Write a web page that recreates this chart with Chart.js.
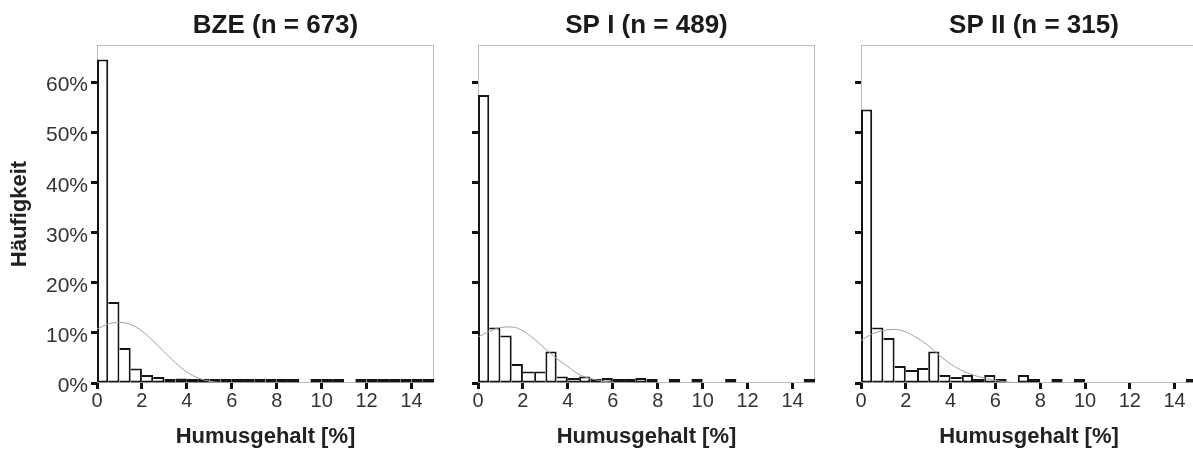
<!DOCTYPE html>
<html>
<head>
<meta charset="utf-8">
<script src="https://cdn.jsdelivr.net/npm/chart.js@4"></script>
<style>
  html, body { margin: 0; padding: 0; background: #fff; overflow: hidden; }
  body { width: 1193px; height: 450px; position: relative; }
  canvas { position: absolute; top: 0; }
</style>
</head>
<body>
<canvas id="bze" width="440" height="450" style="left:0px"></canvas>
<canvas id="sp1" width="380" height="450" style="left:440px"></canvas>
<canvas id="sp2" width="380" height="450" style="left:820px"></canvas>
<script>
// histogram bins, 0.5 % humus wide (centers)
const binCenters = [0.25, 0.75, 1.25, 1.75, 2.25, 2.75, 3.25, 3.75, 4.25, 4.75,
  5.25, 5.75, 6.25, 6.75, 7.25, 7.75, 8.25, 8.75, 9.25, 9.75,
  10.25, 10.75, 11.25, 11.75, 12.25, 12.75, 13.25, 13.75, 14.25, 14.75];

// share of samples per bin in %, null = empty bin
const bzeBins = [64.6, 16.2, 7.0, 2.9, 1.6, 1.2, 0.4, 0.9, 0.3, 0.5,
  0.2, 0.2, 0.2, 0.15, 0.15, 0.15, 0.15, 0.15, null, 0.15,
  0.15, 0.15, null, 0.15, 0.15, 0.15, 0.15, 0.15, 0.15, 0.15];
const sp1Bins = [57.5, 11.1, 9.5, 3.8, 2.3, 2.3, 6.3, 1.3, 1.0, 1.3,
  0.5, 1.0, 0.2, 0.2, 1.0, 0.2, null, 0.2, null, 0.2,
  null, null, 0.2, null, null, null, null, null, null, 0.2];
const sp2Bins = [54.6, 11.1, 9.0, 3.4, 2.6, 3.0, 6.3, 1.6, 1.2, 1.6,
  0.8, 1.6, 0.3, null, 1.6, 0.3, null, 0.3, null, 0.3,
  null, null, null, null, null, null, null, null, null, 0.3];

// fitted normal curve
const curveX = [0, 0.5, 1, 1.5, 2, 2.5, 3, 3.5, 4, 4.5, 5, 5.5, 6, 6.5, 7];
const bzeCurve = [10.8, 11.8, 12.1, 11.7, 10.4, 8.4, 6.2, 4.0, 2.2, 1.0, 0.35, 0.1, 0, 0, 0];
const sp1Curve = [9.2, 10.3, 11.1, 11.2, 10.4, 8.8, 6.8, 4.9, 3.3, 1.7, 0.9, 0.4, 0.15, 0, 0];
const sp2Curve = [8.5, 9.8, 10.5, 10.7, 10.2, 9.0, 7.5, 5.5, 3.8, 2.5, 1.6, 1.0, 0.5, 0.2, 0];

Chart.defaults.font.family = "'Liberation Sans', Arial, sans-serif";

// shared edge between neighbours is drawn only by the taller bar
function edges(vals, i) {
  const v = vals[i] || 0;
  const prev = vals[i - 1] || 0;
  const next = vals[i + 1] || 0;
  return { top: 2, bottom: 2, left: prev > v ? 0 : 2, right: (next > 0 && next >= v) ? 0 : 2 };
}

const frame = {
  id: 'frame',
  beforeDatasetsDraw(chart) {
    const { ctx, chartArea: a } = chart;
    ctx.save();
    ctx.strokeStyle = '#bdbdbd';
    ctx.lineWidth = 1;
    ctx.strokeRect(a.left + 0.5, a.top + 0.5, a.right - a.left - 1, a.bottom - a.top - 1);
    ctx.restore();
  }
};

const panelTitle = {
  id: 'panelTitle',
  afterDraw(chart, args, opts) {
    const { ctx, chartArea: a } = chart;
    ctx.save();
    ctx.font = "bold 26px 'Liberation Sans', Arial, sans-serif";
    ctx.fillStyle = '#1a1a1a';
    ctx.textAlign = 'center';
    ctx.textBaseline = 'alphabetic';
    ctx.fillText(opts.text, (a.left + a.right) / 2 + opts.dx, 33);
    ctx.restore();
  }
};

function makeChart(id, title, dx, bins, curve, axisWidth, padRight, showY) {
  new Chart(document.getElementById(id), {
    type: 'bar',
    data: {
      datasets: [
        {
          type: 'line',
          data: curveX.map((x, i) => ({ x, y: curve[i] })),
          borderColor: '#a0a0a0',
          borderWidth: 1,
          pointRadius: 0,
          cubicInterpolationMode: 'monotone',
          order: 0
        },
        {
          type: 'bar',
          data: binCenters.map((x, i) => ({ x, y: bins[i] })),
          backgroundColor: '#ffffff',
          borderColor: '#151515',
          borderWidth: ctx => edges(bins, ctx.dataIndex),
          borderSkipped: false,
          inflateAmount: 0,
          minBarLength: 4,
          categoryPercentage: 1,
          barPercentage: 1,
          order: 1
        }
      ]
    },
    options: {
      responsive: false,
      animation: false,
      events: [],
      layout: { padding: { top: 45, right: padRight, left: 0, bottom: 0 } },
      plugins: {
        legend: { display: false },
        tooltip: { enabled: false },
        panelTitle: { text: title, dx: dx }
      },
      scales: {
        x: {
          type: 'linear',
          min: 0,
          max: 15,
          offset: false,
          border: { display: false },
          grid: { drawOnChartArea: false, tickLength: 6, tickWidth: 3, tickColor: '#111', offset: false },
          ticks: { stepSize: 2, includeBounds: false, padding: 0, color: '#333', font: { size: 20 }, maxRotation: 0, autoSkip: false },
          title: { display: true, text: 'Humusgehalt [%]', color: '#222', font: { size: 22, weight: 'bold' }, padding: { top: 0, bottom: 0 } },
          afterFit: s => { s.height = 67; }
        },
        y: {
          min: 0,
          max: 67.5,
          border: { display: false },
          grid: { drawOnChartArea: false, tickLength: 6, tickWidth: 3, tickColor: '#111' },
          ticks: { stepSize: 10, includeBounds: false, display: showY, padding: 3, labelOffset: 3, color: '#333', font: { size: 21 }, callback: v => v + '%' },
          title: { display: showY, text: 'Häufigkeit', color: '#222', font: { size: 22, weight: 'bold' }, padding: { top: 7, bottom: 0 } },
          afterFit: s => { s.width = axisWidth; }
        }
      }
    },
    plugins: [frame, panelTitle]
  });
}

makeChart('bze', 'BZE (n = 673)', 10, bzeBins, bzeCurve, 97, 6, true);
makeChart('sp1', 'SP I (n = 489)', 0, sp1Bins, sp1Curve, 38, 5, false);
makeChart('sp2', 'SP II (n = 315)', 5, sp2Bins, sp2Curve, 41, 3, false);
</script>
</body>
</html>
